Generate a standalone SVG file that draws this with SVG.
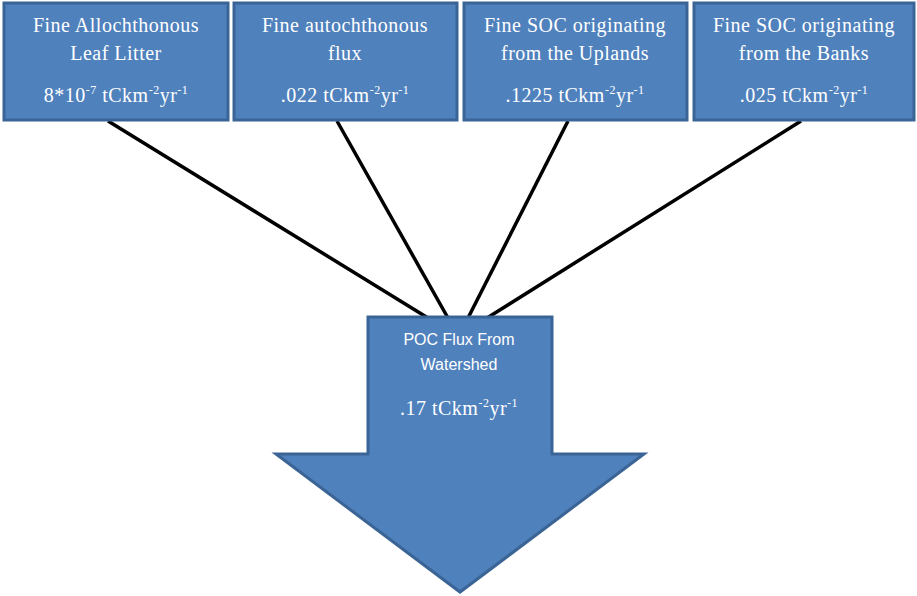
<svg xmlns="http://www.w3.org/2000/svg" width="917" height="596" viewBox="0 0 917 596">
<style>
.box{fill:#4f81bd;stroke:#3b6496;stroke-width:3}
.t{font-family:"Liberation Serif","Times New Roman",serif;font-size:20px;fill:#ffffff;text-anchor:middle;letter-spacing:0.5px}
.s{font-family:"Liberation Sans",Arial,sans-serif;font-size:16px;fill:#ffffff;text-anchor:middle}
.sup{font-size:12px}
.ln{stroke:#000;stroke-width:3.5;fill:none}
</style>
<rect width="917" height="596" fill="#ffffff"/>
<g id="connectors">
<line class="ln" x1="108" y1="121" x2="428" y2="318"/>
<line class="ln" x1="337" y1="121" x2="448" y2="318"/>
<line class="ln" x1="568" y1="121" x2="468" y2="318"/>
<line class="ln" x1="801" y1="121" x2="487" y2="318"/>
</g>
<g id="n1">
<rect class="box" x="4" y="3" width="224" height="117"/>
<text class="t" x="116" y="32">Fine Allochthonous</text>
<text class="t" x="116" y="60">Leaf Litter</text>
<text class="t" x="116" y="102">8*10<tspan class="sup" dy="-8">-7</tspan><tspan dy="8"> tCkm</tspan><tspan class="sup" dy="-8">-2</tspan><tspan dy="8">yr</tspan><tspan class="sup" dy="-8">-1</tspan></text>
</g>
<g id="n2">
<rect class="box" x="234" y="3" width="223" height="117"/>
<text class="t" x="345" y="32">Fine autochthonous</text>
<text class="t" x="345" y="60">flux</text>
<text class="t" x="345" y="102">.022 tCkm<tspan class="sup" dy="-8">-2</tspan><tspan dy="8">yr</tspan><tspan class="sup" dy="-8">-1</tspan></text>
</g>
<g id="n3">
<rect class="box" x="464" y="3" width="223" height="117"/>
<text class="t" x="575" y="32">Fine SOC originating</text>
<text class="t" x="575" y="60">from the Uplands</text>
<text class="t" x="575" y="102">.1225 tCkm<tspan class="sup" dy="-8">-2</tspan><tspan dy="8">yr</tspan><tspan class="sup" dy="-8">-1</tspan></text>
</g>
<g id="n4">
<rect class="box" x="694" y="3" width="220" height="117"/>
<text class="t" x="804" y="32">Fine SOC originating</text>
<text class="t" x="804" y="60">from the Banks</text>
<text class="t" x="804" y="102">.025 tCkm<tspan class="sup" dy="-8">-2</tspan><tspan dy="8">yr</tspan><tspan class="sup" dy="-8">-1</tspan></text>
</g>
<g id="poc">
<polygon class="box" points="368,317 552,317 552,454 644,454 460,592 276,454 368,454"/>
<text class="s" x="459" y="345">POC Flux From</text>
<text class="s" x="459" y="370">Watershed</text>
<text class="t" x="459" y="415">.17 tCkm<tspan class="sup" dy="-8">-2</tspan><tspan dy="8">yr</tspan><tspan class="sup" dy="-8">-1</tspan></text>
</g>
</svg>
